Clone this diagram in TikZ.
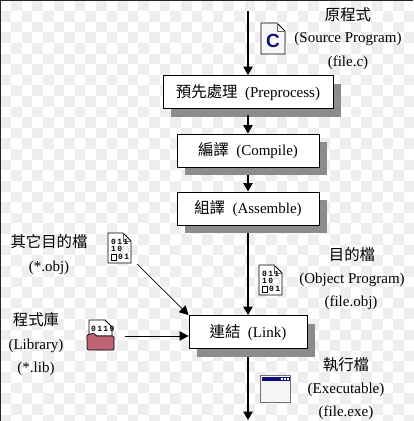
\documentclass[tikz,border=0pt]{standalone}
\usepackage{fontspec}
\setmainfont{Liberation Serif}
\setsansfont{Liberation Sans}
\setmonofont{Liberation Mono}
\newfontfamily\zhfont{Noto Sans CJK TC}
\usetikzlibrary{arrows.meta, shadows, positioning}

\definecolor{tilegray}{HTML}{EEEEEE}
\definecolor{shadegray}{HTML}{8C8C8C}
\definecolor{navyblue}{HTML}{10107A}
\definecolor{libred}{HTML}{BE6472}

\newcommand{\zh}[1]{{\zhfont\fontsize{15.4}{16}\selectfont #1}}

\tikzset{
    stage/.style={draw, line width=0.9pt, fill=white, minimum height=33pt, text height=12pt, text depth=2pt,
        font=\fontsize{15}{16}\selectfont,
        drop shadow={shadow xshift=8pt, shadow yshift=-8pt, fill=shadegray, opacity=1}},
    caption/.style={font=\fontsize{15}{16}\selectfont, inner sep=0pt},
    flow/.style={line width=1.1pt, -{Triangle[width=9.5pt, length=8.5pt]}},
    feed/.style={line width=0.7pt, -{Triangle[width=9.5pt, length=9pt]}},
    sheet/.style={draw, line width=0.8pt, fill=white},
    bits/.style={font=\fontsize{8}{8}\selectfont\ttfamily\bfseries, inner sep=0pt}
}

\begin{document}
\begin{tikzpicture}[x=1pt, y=-1pt]

    \useasboundingbox (0,0) rectangle (413,421);

    % checker background
    \fill[white] (0,0) rectangle (413,421);
    \foreach \i in {0, ..., 38}{
        \foreach \j in {0, ..., 39}{
            \pgfmathtruncatemacro{\odd}{mod(\i+\j,2)}
            \ifnum\odd=1
                \fill[tilegray] ({0.4+10.62*\i},{0.4+10.62*\j}) rectangle ++(10.62,10.62);
            \fi
        }
    }
    \fill[black!85] (0,0) rectangle (1,421);
    \fill[black!85] (0,0) rectangle (413,1);

    % stages
    \node[stage, minimum width=170pt] (preprocess) at (248,92) {\zh{預先處理}~~(Preprocess)};
    \node[stage, minimum width=142pt] (compile) at (248,150.5) {\zh{編譯}~~(Compile)};
    \node[stage, minimum width=142pt] (assemble) at (248,208.5) {\zh{組譯}~~(Assemble)};
    \node[stage, minimum width=118pt] (link) at (248,332) {\zh{連結}~~(Link)};

    % free ends
    \coordinate (start) at (248,11);
    \coordinate (finish) at (248,420);
    \coordinate (objout) at (137,264);
    \coordinate (libout) at (125,336);

    \draw[flow] (start) -- (preprocess);
    \draw[flow, shorten <=6pt] (preprocess) -- (compile);
    \draw[flow, shorten <=8pt] (compile) -- (assemble);
    \draw[flow, shorten <=8pt] (assemble) -- (link);
    \draw[flow, shorten <=8pt] (link) -- (finish);
    \draw[feed] (objout) -- (link.north west);
    \draw[feed] (libout) -- (link.west |- libout);

    % source file icon
    \draw[sheet, fill=white!94!gray] (261,23) -- (277,23) -- (285,31) -- (285,54) -- (261,54) -- cycle;
    \draw[line width=0.5pt, black!60] (277,23) -- (277,31) -- (285,31);
    \node[inner sep=0pt, text=navyblue, font=\fontsize{19}{20}\selectfont\sffamily\bfseries] (cletter) at (273,41) {C};

    % object file icons
    \foreach \x/\y/\n in {108/233/otherobj, 259/265/mainobj}{
        \draw[sheet] (\x,\y) -- ++(15,0) -- ++(8,8) -- ++(0,22) -- ++(-23,0) -- cycle;
        \draw[line width=0.5pt, black!60] (\x+15,\y) -- ++(0,8) -- ++(8,0);
        \node[bits, anchor=west] (\n a) at (\x+3,\y+9) {0\,1\,1};
        \node[bits, anchor=west] (\n b) at (\x+3,\y+16) {1\,0};
        \node[bits, anchor=west] (\n c) at (\x+10,\y+24) {0\,1};
        \draw[line width=0.4pt] (\x+3,\y+21) rectangle ++(5,6);
        \draw[line width=0.5pt, black!50, densely dotted] (\x+17,\y+17) circle (4);
    }

    % library icon
    \draw[sheet] (89,320) -- (105,320) -- (112,327) -- (112,336) -- (89,336) -- cycle;
    \node[bits, anchor=west] (libbits) at (91,329) {0\,1\,1\,9};
    \draw[line width=0.7pt, fill=libred, rounded corners=1pt] (87,350) -- (87,335) -- (94,333) -- (96,336) -- (114,336) -- (114,350) -- cycle;

    % executable icon
    \draw[line width=1pt, draw=black!55, fill=white!92!gray] (260.5,375.5) rectangle (290.5,402.5);
    \fill[navyblue] (261.5,376.5) rectangle (289.5,381);
    \foreach \x in {281, 284, 287}{
        \fill[white] (\x,377.5) rectangle ++(2,2.5);
    }

    % captions
    \node[caption] (srcname) at (348,15) {\zh{原程式}};
    \node[caption] (srceng) at (348,39) {(Source Program)};
    \node[caption] (srcfile) at (348,63) {(file.c)};

    \node[caption] (othername) at (49,242) {\zh{其它目的檔}};
    \node[caption] (otherfile) at (49,268) {(*.obj)};

    \node[caption] (libname) at (36,320) {\zh{程式庫}};
    \node[caption] (libeng) at (36,346) {(Library)};
    \node[caption] (libfile) at (36,369) {(*.lib)};

    \node[caption] (objname) at (352,255) {\zh{目的檔}};
    \node[caption] (objeng) at (352,280) {(Object Program)};
    \node[caption] (objfile) at (351,303) {(file.obj)};

    \node[caption] (exename) at (346,365) {\zh{執行檔}};
    \node[caption] (exeeng) at (346,390) {(Executable)};
    \node[caption] (exefile) at (346,413) {(file.exe)};

\end{tikzpicture}
\end{document}
